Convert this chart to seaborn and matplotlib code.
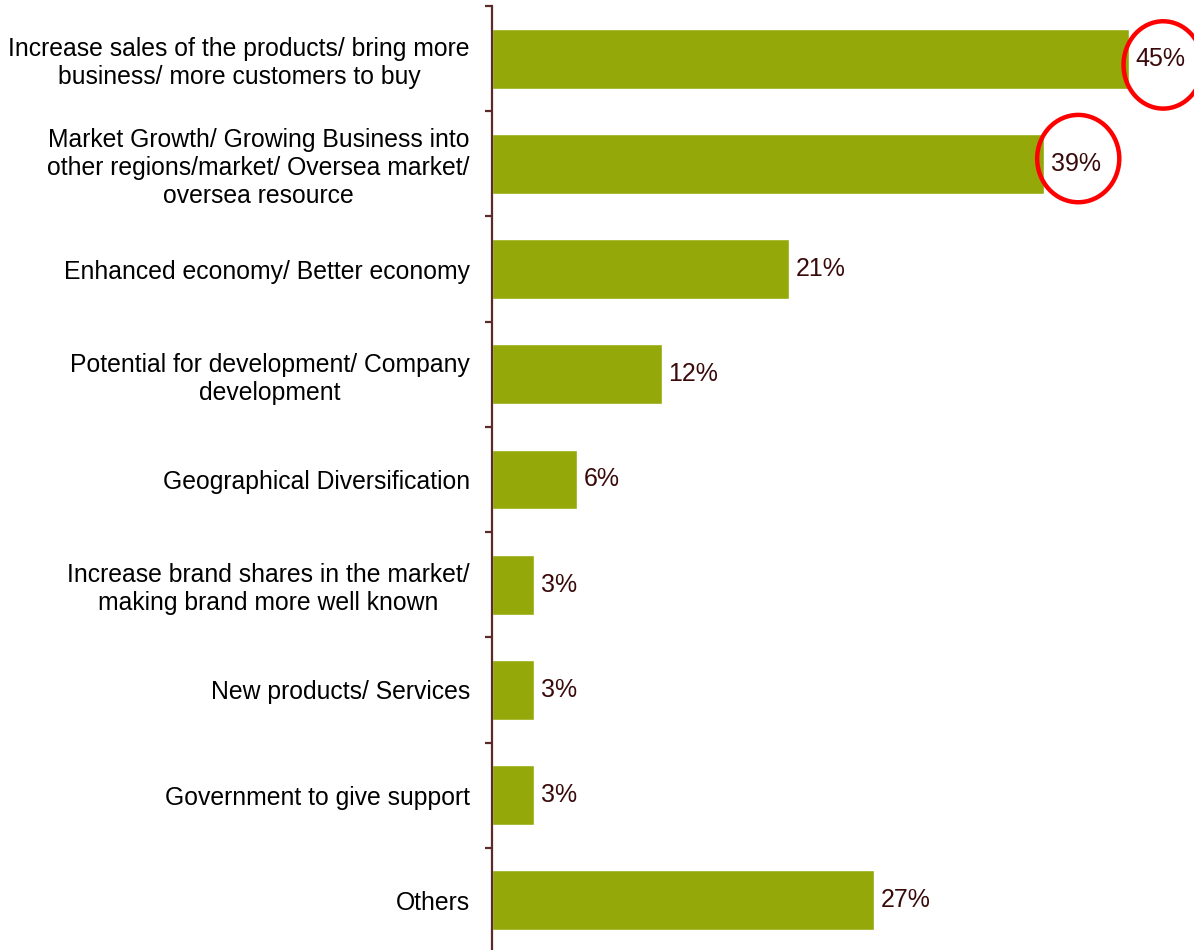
import matplotlib
matplotlib.use("Agg")
import matplotlib.pyplot as plt
from matplotlib.patches import Ellipse
import seaborn as sns
import pandas as pd

categories = [
    "Increase sales of the products/ bring more\nbusiness/ more customers to buy",
    "Market Growth/ Growing Business into\nother regions/market/ Oversea market/\noversea resource",
    "Enhanced economy/ Better economy",
    "Potential for development/ Company\ndevelopment",
    "Geographical Diversification",
    "Increase brand shares in the market/\nmaking brand more well known",
    "New products/ Services",
    "Government to give support",
    "Others",
]
values = [45, 39, 21, 12, 6, 3, 3, 3, 27]
highlighted = [0, 1]

df = pd.DataFrame({"reason": categories, "share": values})

sns.set_theme(style="white")
plt.rcParams["font.family"] = ["Liberation Sans", "DejaVu Sans"]

bar_color = "#95A80A"
axis_color = "#5C2A2A"
label_color = "#3A0A0A"

fig = plt.figure(figsize=(11.94, 9.5), dpi=100)
ax = fig.add_axes([492 / 1194, -3 / 950, 702 / 1194, 947 / 950])

sns.barplot(data=df, x="share", y="reason", orient="h", color=bar_color,
            width=0.57, saturation=1, ax=ax)

ax.set_xlim(0, 702 / 14.16)
ax.set_ylim(len(categories) - 0.5, -0.5)
ax.set_xlabel("")
ax.set_ylabel("")
ax.set_xticks([])

for side in ["top", "right", "bottom"]:
    ax.spines[side].set_visible(False)
ax.spines["left"].set_color(axis_color)
ax.spines["left"].set_linewidth(1.6)

ax.set_yticks([i - 0.5 for i in range(len(categories) + 1)], minor=True)
ax.tick_params(axis="y", which="minor", left=True, length=5, width=1.6,
               color=axis_color, direction="out")
ax.tick_params(axis="y", which="major", length=0, pad=16, labelsize=17.8,
               labelcolor="black")
for lbl in ax.get_yticklabels():
    lbl.set_horizontalalignment("right")
    lbl.set_multialignment("center")
    lbl.set_linespacing(1.2)

for i, v in enumerate(values):
    ax.text(v + 0.45, i, f"{v}%", va="center", ha="left", fontsize=18,
            color=label_color)

# red rings around the two leading reasons
ring_shift = {0: 0.06, 1: -0.05}
ring_width = {0: 5.6, 1: 5.8}
for i in highlighted:
    v = values[i]
    ax.add_patch(Ellipse((v + 2.4, i + ring_shift[i]), width=ring_width[i],
                         height=0.83, fill=False, edgecolor="#FF0000",
                         linewidth=3.2, clip_on=False))

fig.savefig("out.png", dpi=100)
